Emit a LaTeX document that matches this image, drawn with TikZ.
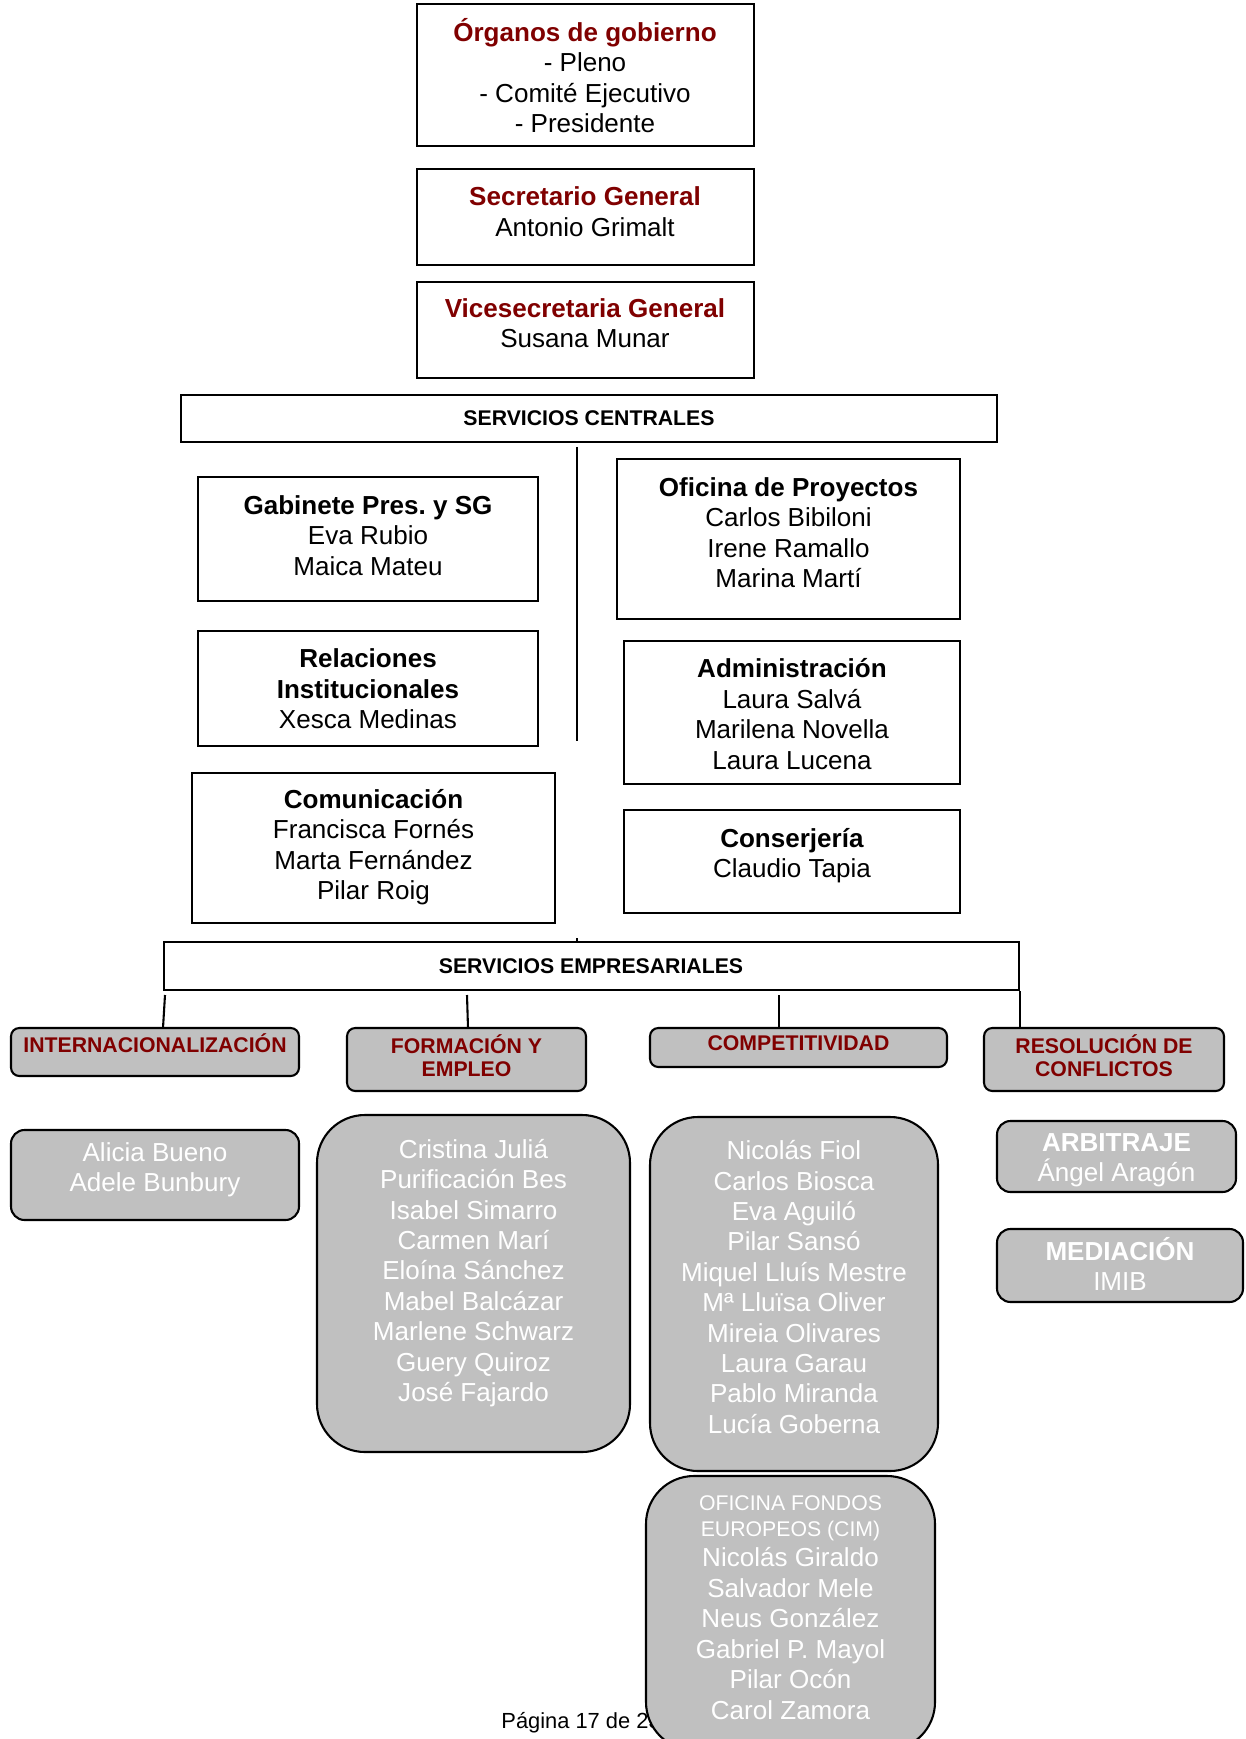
\documentclass[tikz,border=0pt]{standalone}
\usepackage{fontspec}
\setmainfont{Liberation Sans}
\usetikzlibrary{fit}
\frenchspacing
\definecolor{dred}{RGB}{128,0,0}
\definecolor{boxgray}{RGB}{192,192,192}
\newcommand{\bigf}{\fontsize{12.5}{14.6}\selectfont}
\newcommand{\smallf}{\fontsize{10.2}{11.1}\selectfont}
\newcommand{\smallfb}{\fontsize{10.2}{12.5}\selectfont}
\newcommand{\footf}{\fontsize{10.5}{12}\selectfont}
\tikzset{
  plainbox/.style={draw, line width=1pt, inner sep=0pt},
  hdrbox/.style={draw, line width=1pt, inner sep=0pt, fill=boxgray, rounded corners=4pt},
  grybox/.style={draw, line width=1pt, inner sep=0pt, fill=boxgray, rounded corners=6.5pt},
  bigbox/.style={draw, line width=1pt, inner sep=0pt, fill=boxgray, rounded corners=23pt},
  txt/.style={font=\bigf, align=center, inner sep=0pt},
  wtxt/.style={txt, text=white},
  hdr/.style={font=\bfseries\smallf, align=center, inner sep=0pt, text=dred},
  sectxt/.style={font=\bfseries\smallf, align=center, inner sep=0pt},
  conn/.style={line width=1pt}
}
\begin{document}
\begin{tikzpicture}[x=0.48pt, y=-0.48pt]
\useasboundingbox (0,0) rectangle (1245,1739);
\fill[white] (0,0) rectangle (1245,1739);
\clip (0,0) rectangle (1245,1739);

% top boxes
\node[plainbox, fit={(417,4) (754,146)}] (org) {};
\node[txt] (orgt) at (585,75.5) {\textbf{\textcolor{dred}{Órganos de gobierno}}\\- Pleno\\- Comité Ejecutivo\\- Presidente};
\node[plainbox, fit={(417,169) (754,265)}] (sec) {};
\node[txt] (sect) at (585,211.5) {\textbf{\textcolor{dred}{Secretario General}}\\Antonio Grimalt};
\node[plainbox, fit={(417,282) (754,378)}] (vice) {};
\node[txt] (vicet) at (585,323) {\textbf{\textcolor{dred}{Vicesecretaria General}}\\Susana Munar};

% servicios centrales
\node[plainbox, fit={(181,395) (997,442)}] (sc) {};
\node[sectxt] (sct) at (589,418) {SERVICIOS CENTRALES};
\coordinate (v1) at (577,447);
\coordinate (v2) at (577,741);
\draw[conn] (v1) -- (v2);

\node[plainbox, fit={(198,477) (538,601)}] (gab) {};
\node[txt] (gabt) at (368,535.5) {\textbf{Gabinete Pres.\ y SG}\\Eva Rubio\\Maica Mateu};
\node[plainbox, fit={(198,631) (538,746)}] (rel) {};
\node[txt] (relt) at (368,689) {\textbf{Relaciones}\\\textbf{Institucionales}\\Xesca Medinas};
\node[plainbox, fit={(192,773) (555,923)}] (com) {};
\node[txt] (comt) at (373.5,847) {\textbf{Comunicación}\\Francisca Fornés\\Marta Fernández\\Pilar Roig};

\node[plainbox, fit={(617,459) (960,619)}] (ofi) {};
\node[txt] (ofit) at (788.5,532.5) {\textbf{Oficina de Proyectos}\\Carlos Bibiloni\\Irene Ramallo\\Marina Martí};
\node[plainbox, fit={(624,641) (960,784)}] (adm) {};
\node[txt] (admt) at (792,714) {\textbf{Administración}\\Laura Salvá\\Marilena Novella\\Laura Lucena};
\node[plainbox, fit={(624,810) (960,913)}] (cons) {};
\node[txt] (const) at (792,855.5) {\textbf{Conserjería}\\Claudio Tapia};

% servicios empresariales
\coordinate (t1) at (577,938);
\coordinate (t2) at (577,942);
\draw[conn] (t1) -- (t2);
\node[plainbox, fit={(164,942) (1019,990)}] (se) {};
\node[sectxt] (set) at (591,966) {SERVICIOS EMPRESARIALES};

\node[hdrbox, fit={(11,1028) (299,1076)}] (int) {};
\node[hdr] (intt) at (155,1043.5) {INTERNACIONALIZACIÓN};
\node[hdrbox, fit={(347,1028) (586,1091)}] (form) {};
\node[hdr] (formt) at (466.5,1056) {FORMACIÓN Y\\EMPLEO};
\node[hdrbox, fit={(650,1028) (947,1067)}] (comp) {};
\node[hdr] (compt) at (798.5,1043) {COMPETITIVIDAD};
\node[hdrbox, fit={(984,1028) (1224,1091)}] (res) {};
\node[hdr] (rest) at (1104,1056) {RESOLUCIÓN DE\\CONFLICTOS};

\coordinate (a1) at (165,995);
\coordinate (a2) at (163,1028);
\draw[conn] (a1) -- (a2);
\coordinate (b1) at (467,995);
\coordinate (b2) at (468,1028);
\draw[conn] (b1) -- (b2);
\coordinate (c1) at (779,995);
\coordinate (c2) at (779,1028);
\draw[conn] (c1) -- (c2);
\draw[conn] (se.south east) -- (res.north -| se.south east);

% member boxes
\node[grybox, fit={(11,1130) (299,1220)}] (ali) {};
\node[wtxt] (alit) at (155,1170) {Alicia Bueno\\Adele Bunbury};

\node[bigbox, fit={(317,1115) (630,1452)}] (fnames) {};
\node[wtxt] (fnamest) at (473.5,1273) {Cristina Juliá\\Purificación Bes\\Isabel Simarro\\Carmen Marí\\Eloína Sánchez\\Mabel Balcázar\\Marlene Schwarz\\Guery Quiroz\\José Fajardo};

\node[bigbox, fit={(650,1117) (938,1471)}] (cnames) {};
\node[wtxt] (cnamest) at (794,1287) {Nicolás Fiol\\Carlos Biosca\\Eva Aguiló\\Pilar Sansó\\Miquel Lluís Mestre\\Mª Lluïsa Oliver\\Mireia Olivares\\Laura Garau\\Pablo Miranda\\Lucía Goberna};

\node[grybox, fit={(997,1121) (1236,1192)}] (arb) {};
\node[wtxt] (arbt) at (1116.5,1160) {\textbf{ARBITRAJE}\\Ángel Aragón};
\node[grybox, fit={(997,1229) (1243,1302)}] (med) {};
\node[wtxt] (medt) at (1120,1264) {\textbf{MEDIACIÓN}\\IMIB};

% footer and fondos box
\node[font=\footf, anchor=west, inner sep=0pt] (foot) at (501,1723) {Página 17 de 23};
\node[bigbox, fit={(646,1476) (935,1750)}] (fondos) {};
\node[font=\smallfb, align=center, inner sep=0pt, text=white] (fondost) at (790.5,1518) {OFICINA FONDOS\\EUROPEOS (CIM)};
\node[wtxt] (fondosn) at (790.5,1633.5) {Nicolás Giraldo\\Salvador Mele\\Neus González\\Gabriel P. Mayol\\Pilar Ocón\\Carol Zamora};
\end{tikzpicture}
\end{document}
